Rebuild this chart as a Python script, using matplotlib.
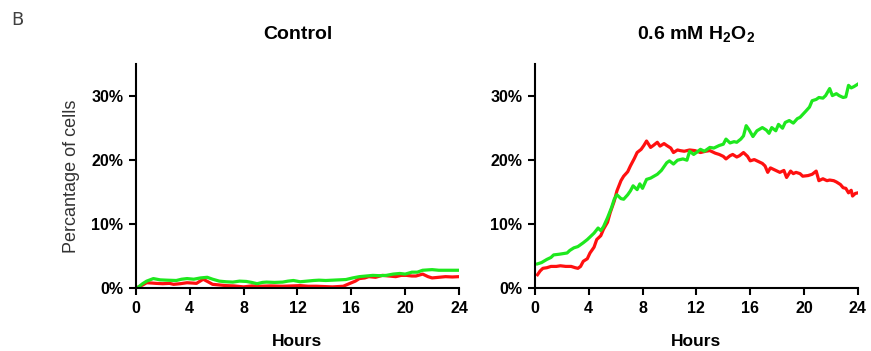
import matplotlib.pyplot as plt
from matplotlib.ticker import FuncFormatter

plt.rcParams['font.family'] = ['Liberation Sans', 'DejaVu Sans']
plt.rcParams['mathtext.fontset'] = 'custom'
plt.rcParams['mathtext.bf'] = 'Liberation Sans:bold'
plt.rcParams['mathtext.rm'] = 'Liberation Sans'

# Control - red
t_ctrl_red = [0.2, 0.5, 0.8, 1.2, 1.5, 2.0, 2.5, 2.8, 3.3, 3.8, 4.2, 4.5, 5.0,
              5.4, 5.7, 6.2, 6.7, 7.3, 8.0, 8.6, 9.2, 10.0, 10.9, 11.6, 12.2,
              12.8, 13.4, 14.0, 14.6, 15.0, 15.4, 15.9, 16.3, 16.6, 17.0, 17.3,
              17.8, 18.3, 18.8, 19.3, 19.7, 20.1, 20.5, 20.8, 21.3, 21.7, 22.0,
              22.5, 23.0, 23.5, 24.0]
ctrl_red = [0.2, 0.5, 0.85, 0.8, 0.75, 0.7, 0.75, 0.6, 0.7, 0.85, 0.8, 0.75, 1.4,
            0.95, 0.6, 0.5, 0.4, 0.35, 0.2, 0.35, 0.3, 0.35, 0.3, 0.35, 0.4,
            0.3, 0.3, 0.25, 0.2, 0.25, 0.3, 0.75, 1.1, 1.5, 1.6, 1.8,
            1.7, 2.0, 1.9, 1.8, 2.0, 2.0, 1.9, 1.9, 2.2, 1.8, 1.6,
            1.7, 1.8, 1.75, 1.8]

# Control - green
t_ctrl_green = [0.2, 0.5, 0.8, 1.3, 1.8, 2.3, 3.0, 3.4, 3.8, 4.3, 4.8, 5.3, 5.7,
                6.2, 6.7, 7.2, 7.7, 8.2, 8.6, 9.0, 9.4, 9.7, 10.3, 10.9, 11.3,
                11.7, 12.2, 12.7, 13.2, 13.6, 14.1, 14.6, 15.1, 15.6, 16.1, 16.6,
                17.1, 17.6, 18.1, 18.6, 19.1, 19.6, 20.0, 20.5, 20.9, 21.3, 22.0,
                22.5, 23.0, 23.5, 24.0]
ctrl_green = [0.2, 0.7, 1.1, 1.5, 1.3, 1.25, 1.2, 1.4, 1.5, 1.4, 1.6, 1.7, 1.4,
              1.1, 1.0, 0.95, 1.1, 1.05, 0.9, 0.7, 0.9, 0.95, 0.9, 0.95, 1.1,
              1.2, 1.0, 1.1, 1.2, 1.25, 1.2, 1.25, 1.3, 1.35, 1.6, 1.8,
              1.9, 2.0, 1.95, 2.0, 2.2, 2.3, 2.2, 2.5, 2.5, 2.8, 2.9,
              2.8, 2.8, 2.8, 2.8]

# 0.6 mM H2O2 - red
t_h2o2_red = [0.2, 0.4, 0.6, 0.9, 1.2, 1.6, 1.9, 2.3, 2.7, 3.0, 3.2, 3.4, 3.6,
              3.9, 4.1, 4.4, 4.6, 4.9, 5.1, 5.4, 5.6, 5.9, 6.1, 6.4, 6.6, 6.9,
              7.1, 7.4, 7.6, 7.9, 8.1, 8.3, 8.6, 8.8, 9.1, 9.3, 9.6, 9.8, 10.1,
              10.3, 10.6, 10.8, 11.1, 11.5, 11.9, 12.3, 12.7, 13.0, 13.4, 13.7,
              14.0, 14.2, 14.5, 14.7, 15.0, 15.2, 15.5, 15.8, 16.0, 16.3, 16.5,
              16.9, 17.1, 17.3, 17.5, 17.7, 18.0, 18.2, 18.5, 18.7, 19.0, 19.2,
              19.4, 19.7, 19.9, 20.3, 20.6, 20.9, 21.1, 21.4, 21.7, 21.9, 22.2,
              22.4, 22.7, 22.9, 23.1, 23.3, 23.5, 23.6, 23.8, 24.0]
h2o2_red = [2.1, 2.7, 3.1, 3.2, 3.4, 3.4, 3.5, 3.4, 3.4, 3.2, 3.1, 3.4, 4.2,
            4.6, 5.5, 6.4, 7.6, 8.2, 9.2, 10.3, 11.8, 13.6, 15.2, 16.8, 17.5, 18.2,
            19.1, 20.3, 21.2, 21.7, 22.3, 23.0, 22.0, 22.3, 22.8, 22.2, 22.6, 22.3, 21.9,
            21.2, 21.6, 21.5, 21.4, 21.6, 21.5, 21.2, 21.4, 21.5, 21.1, 20.9,
            20.6, 20.2, 20.7, 20.9, 20.5, 20.7, 21.2, 20.6, 19.9, 20.1, 19.9,
            19.5, 19.1, 18.1, 18.8, 18.6, 18.3, 18.1, 18.4, 17.3, 18.3, 17.9,
            18.1, 17.9, 17.5, 17.6, 17.8, 18.3, 16.8, 17.1, 16.8, 16.9, 16.8,
            16.6, 16.2, 15.7, 15.6, 14.9, 15.3, 14.4, 14.8, 14.9]

# 0.6 mM H2O2 - green
t_h2o2_green = [0.2, 0.5, 0.9, 1.2, 1.4, 1.8, 2.1, 2.4, 2.6, 2.9, 3.2, 3.6,
                3.9, 4.2, 4.4, 4.7, 4.9, 5.1, 5.4, 5.7, 5.9, 6.1, 6.4, 6.6, 6.9,
                7.1, 7.3, 7.6, 7.8, 8.0, 8.3, 8.6, 9.1, 9.4, 9.8, 10.0, 10.3,
                10.6, 11.0, 11.3, 11.5, 11.8, 12.0, 12.3, 12.6, 13.0, 13.3, 13.7,
                14.0, 14.2, 14.5, 14.8, 15.0, 15.3, 15.5, 15.7, 15.9, 16.2, 16.5,
                16.9, 17.2, 17.4, 17.6, 17.9, 18.1, 18.4, 18.6, 18.9, 19.2, 19.5,
                19.7, 20.1, 20.4, 20.6, 20.9, 21.1, 21.4, 21.6, 21.9, 22.1, 22.4,
                22.6, 22.9, 23.1, 23.3, 23.5, 23.7, 24.0]
h2o2_green = [3.8, 4.0, 4.5, 4.8, 5.2, 5.3, 5.4, 5.5, 5.9, 6.3, 6.5, 7.1,
              7.6, 8.2, 8.6, 9.4, 9.0, 9.6, 11.0, 12.6, 13.9, 14.6, 14.0, 13.9, 14.6,
              15.2, 16.0, 15.4, 16.3, 15.6, 17.0, 17.2, 17.8, 18.4, 19.6, 19.9, 19.4,
              20.0, 20.2, 20.0, 21.4, 20.9, 21.2, 21.7, 21.4, 22.0, 21.9, 22.3,
              22.5, 23.3, 22.7, 22.9, 22.8, 23.3, 23.8, 25.4, 24.8, 23.7, 24.6,
              25.1, 24.7, 24.2, 25.1, 24.6, 25.6, 25.0, 25.9, 26.2, 25.8, 26.5,
              26.7, 27.6, 28.3, 29.3, 29.5, 29.8, 29.7, 30.1, 31.2, 30.1, 30.4,
              30.1, 29.8, 29.9, 31.7, 31.3, 31.5, 31.9]

RED = '#ff1010'
GREEN = '#1ee81e'

fig = plt.figure(figsize=(8.71, 3.51), dpi=100)
ax1 = fig.add_axes([0.156, 0.179, 0.371, 0.638])
ax2 = fig.add_axes([0.614, 0.179, 0.371, 0.638])

paneles = [
    (ax1, t_ctrl_red, ctrl_red, t_ctrl_green, ctrl_green, 'Control'),
    (ax2, t_h2o2_red, h2o2_red, t_h2o2_green, h2o2_green,
     r'0.6 mM H$_\mathbf{2}$O$_\mathbf{2}$'),
]

for ax, tr, yr, tg, yg, titulo in paneles:
    ax.plot(tr, yr, color=RED, lw=2.3, solid_joinstyle='round')
    ax.plot(tg, yg, color=GREEN, lw=2.3, solid_joinstyle='round')
    ax.set_xlim(0, 24)
    ax.set_ylim(0, 35)
    ax.set_xticks([0, 4, 8, 12, 16, 20, 24])
    ax.set_yticks([0, 10, 20, 30])
    ax.yaxis.set_major_formatter(FuncFormatter(lambda v, p: '%d%%' % v))
    for lado in ['top', 'right']:
        ax.spines[lado].set_visible(False)
    for lado in ['left', 'bottom']:
        ax.spines[lado].set_linewidth(1.5)
        ax.spines[lado].set_zorder(5)
    ax.tick_params(direction='out', length=5, width=1.5, labelsize=11.5, pad=4)
    for lab in ax.get_xticklabels() + ax.get_yticklabels():
        lab.set_fontweight('bold')
    ax.set_xlabel('Hours', fontsize=12.5, fontweight='bold', labelpad=13)
    ax.set_title(titulo, fontsize=14, fontweight='bold', pad=18)

ax1.set_ylabel('Percantage of cells', fontsize=13, color='#333333', labelpad=8)

fig.text(0.013, 0.93, 'B', fontsize=13, color='#404040',
         family=['DejaVu Sans'])

fig.savefig('out.png', dpi=100)
